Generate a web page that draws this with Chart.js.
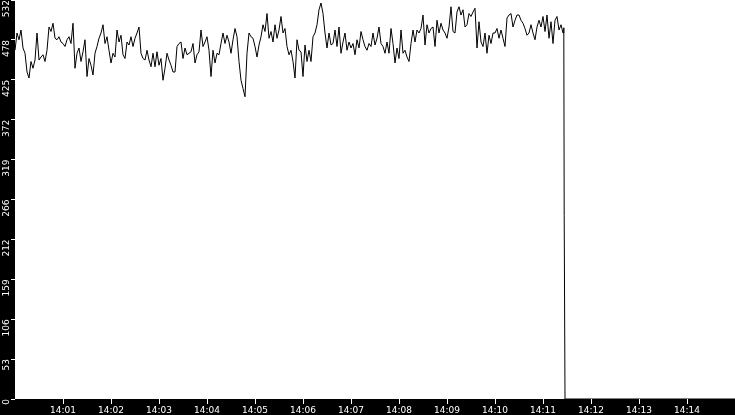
<!DOCTYPE html>
<html>
<head>
<meta charset="utf-8">
<script src="https://cdn.jsdelivr.net/npm/chart.js@4.4.1/dist/chart.umd.min.js"></script>
<style>
  html, body { margin: 0; padding: 0; background: #000; }
  #wrap { width: 735px; height: 415px; position: relative; }
</style>
</head>
<body>
<div id="wrap"><canvas id="c"></canvas></div>
<script>
// Sample interval (seconds) of the recorded series, starting at 14:00:00
const sampleStepSec = 2.5;

// Series values
const values = [
  465,488,479,492,468,461,436,428,450,441,452,488,452,456,459,450,465,496,490,501,481,479,483,476,474,470,479,483,474,501,441,461,468,450,463,479,430,454,445,432,461,470,481,488,499,474,
  483,
  465,448,461,456,492,476,485,459,454,476,472,483,470,481,488,496,461,454,452,465,452,443,461,443,463,445,454,425,441,461,452,445,436,436,470,474,476,454,468,459,461,463,474,448,459,463,
  492,470,476,483,465,430,465,448,461,459,474,488,474,485,476,461,479,494,483,450,425,414,403,461,488,483,481,470,456,472,483,499,490,514,481,490,476,499,481,492,510,488,494,470,459,
  465,450,428,479,465,463,430,472,450,465,450,483,488,499,519,528,514,488,468,488,472,474,492,470,496,461,476,488,465,476,468,474,459,479,468,490,479,470,465,474,470,488,472,481,496,474,470,
  461,476,461,494,474,448,468,454,492,461,465,456,450,474,492,476,492,488,494,512,472,499,488,494,496,470,505,488,501,492,488,481,496,523,490,488,516,523,512,519,496,499,514,510,516,521,
  468,503,476,470,488,461,485,474,488,488,494,481,492,481,470,508,512,514,496,505,512,512,505,501,494,485,488,499,488,479,496,505,496,510,490,512,481,503,474,505,510,492,499,488
];

// Final drop to zero (seconds after 14:00:00) and values
const dropTimes  = [686, 686.5, 687.5, 900];
const dropValues = [495, 245, 0, 0];

// Axis ticks
const xMinSec = 0;
const xMaxSec = 900;
const xTickSecs   = [60,120,180,240,300,360,420,480,540,600,660,720,780,840];
const xTickLabels = ['14:01','14:02','14:03','14:04','14:05','14:06','14:07','14:08','14:09','14:10','14:11','14:12','14:13','14:14'];
const yMax = 532;
const yTickValues = [0,53.2,106.4,159.6,212.8,266,319.2,372.4,425.6,478.8,532];
const yTickLabels = ['0','53','106','159','212','266','319','372','425','478','532'];

const points = values.map((v, i) => ({ x: i * sampleStepSec, y: v }))
  .concat(dropTimes.map((t, i) => ({ x: t, y: dropValues[i] })));

const bgPlugin = {
  id: 'bg',
  beforeDraw(chart) {
    const { ctx, chartArea: a } = chart;
    ctx.save();
    ctx.fillStyle = '#000';
    ctx.fillRect(0, 0, chart.width, chart.height);
    ctx.fillStyle = '#fff';
    ctx.fillRect(a.left, a.top, a.right - a.left, a.bottom - a.top);
    ctx.restore();
  }
};

const font = { family: 'DejaVu Sans', size: 9 };

new Chart(document.getElementById('c'), {
  type: 'line',
  data: {
    datasets: [{
      data: points,
      borderColor: '#000',
      borderWidth: 1,
      pointRadius: 0,
      tension: 0,
      fill: false
    }]
  },
  options: {
    responsive: true,
    maintainAspectRatio: false,
    devicePixelRatio: 1,
    animation: false,
    parsing: false,
    normalized: true,
    layout: { padding: 0 },
    plugins: { legend: { display: false }, tooltip: { enabled: false } },
    scales: {
      x: {
        type: 'linear',
        min: xMinSec,
        max: xMaxSec,
        afterBuildTicks(scale) {
          scale.ticks = xTickSecs.map(v => ({ value: v }));
        },
        afterFit(scale) {
          scale.height = 16;
          scale.paddingLeft = 0; scale.paddingRight = 0;
          scale.paddingTop = 0; scale.paddingBottom = 0;
        },
        border: { display: false },
        grid: { drawOnChartArea: false, drawTicks: true, tickLength: 5, tickColor: '#fff', tickWidth: 1 },
        ticks: {
          autoSkip: false,
          maxRotation: 0,
          minRotation: 0,
          padding: 1,
          color: '#fff',
          font: font,
          callback: (v, i) => xTickLabels[i]
        }
      },
      y: {
        type: 'linear',
        min: 0,
        max: yMax,
        afterBuildTicks(scale) {
          scale.ticks = yTickValues.map(v => ({ value: v }));
        },
        afterFit(scale) {
          scale.width = 15;
          scale.paddingLeft = 0; scale.paddingRight = 0;
          scale.paddingTop = 0; scale.paddingBottom = 0;
        },
        border: { display: false },
        grid: { drawOnChartArea: false, drawTicks: true, tickLength: 4, tickColor: '#fff', tickWidth: 1 },
        ticks: {
          autoSkip: false,
          minRotation: 90,
          maxRotation: 90,
          padding: 4,
          color: '#fff',
          font: font,
          callback: (v, i) => yTickLabels[i]
        }
      }
    }
  },
  plugins: [bgPlugin]
});
</script>
</body>
</html>
